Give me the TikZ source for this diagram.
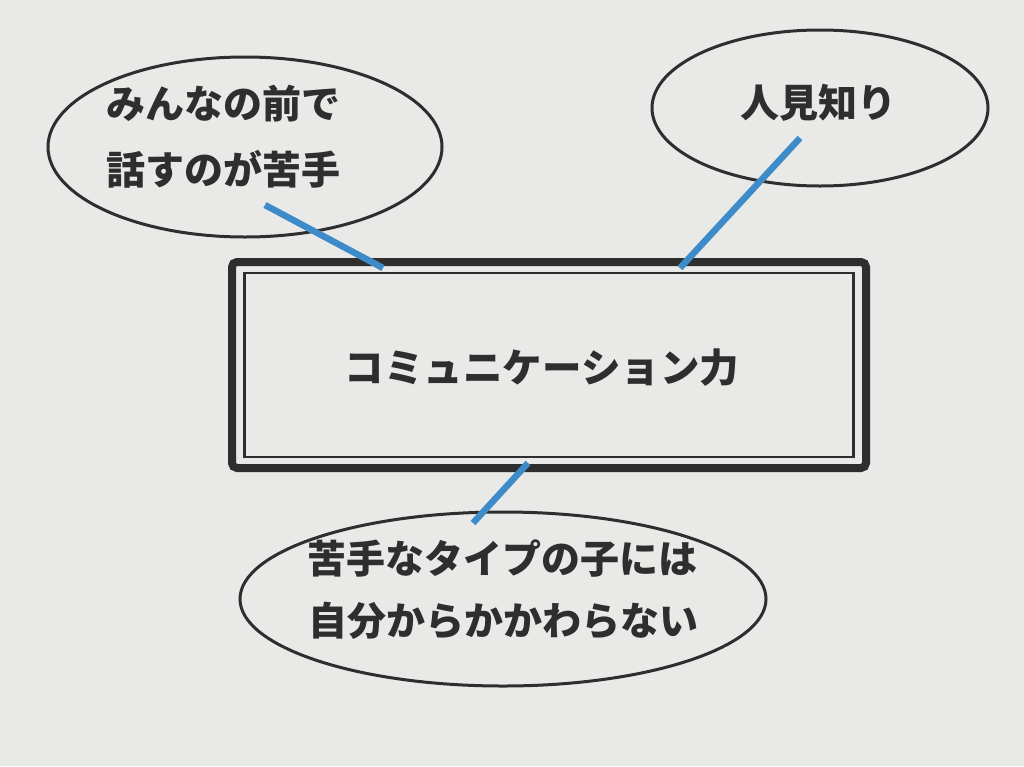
\documentclass[tikz,border=0pt]{standalone}
\usepackage{fontspec}
\newfontfamily\cjk{Noto Sans CJK JP}
\usetikzlibrary{shapes.geometric}
\definecolor{paper}{HTML}{E9E9E7}
\definecolor{ink}{HTML}{2E2E2E}
\definecolor{blueline}{HTML}{3D8BC9}
\tikzset{
  oval/.style={ellipse, draw=ink, line width=3pt, inner sep=0pt},
  label/.style={font=\cjk\bfseries\fontsize{39}{42}\selectfont, text=ink, inner sep=0pt, anchor=west},
  conn/.style={draw=blueline, line width=6.5pt},
}
\begin{document}
\begin{tikzpicture}[x=1pt,y=-1pt]
\fill[paper] (0,0) rectangle (1024,766);
\useasboundingbox (0,0) rectangle (1024,766);
% main box
\node[draw=ink, line width=8pt, rounded corners=5pt, minimum width=634pt, minimum height=206pt, inner sep=0pt] (box) at (549,365) {};
\node[draw=ink, line width=2.2pt, minimum width=609pt, minimum height=184pt, inner sep=0pt] (inner) at (549,365) {};
\node[label, anchor=center, font=\cjk\bfseries\fontsize{39.5}{42}\selectfont] (main) at (542,368) {コミュニケーション力};
% ellipses
\node[oval, minimum width=394pt, minimum height=180pt] (e1) at (245,147) {};
\node[oval, minimum width=336pt, minimum height=156pt] (e2) at (820,108) {};
\node[oval, minimum width=526pt, minimum height=174pt] (e3) at (503,599) {};
% texts
\node[label] (t1a) at (106,104) {みんなの前で};
\node[label] (t1b) at (106,169) {話すのが苦手};
\node[label] (t2) at (740,103) {人見知り};
\node[label] (t3a) at (307,559) {苦手なタイプの子には};
\node[label] (t3b) at (308,621) {自分からかかわらない};
% connectors
\coordinate (c1a) at (265,205);
\coordinate (c1b) at (383,268);
\coordinate (c2a) at (800,138);
\coordinate (c2b) at (680,268);
\coordinate (c3a) at (528,463);
\coordinate (c3b) at (473,523);
\draw[conn] (c1a) -- (c1b);
\draw[conn] (c2a) -- (c2b);
\draw[conn] (c3a) -- (c3b);
\end{tikzpicture}
\end{document}
